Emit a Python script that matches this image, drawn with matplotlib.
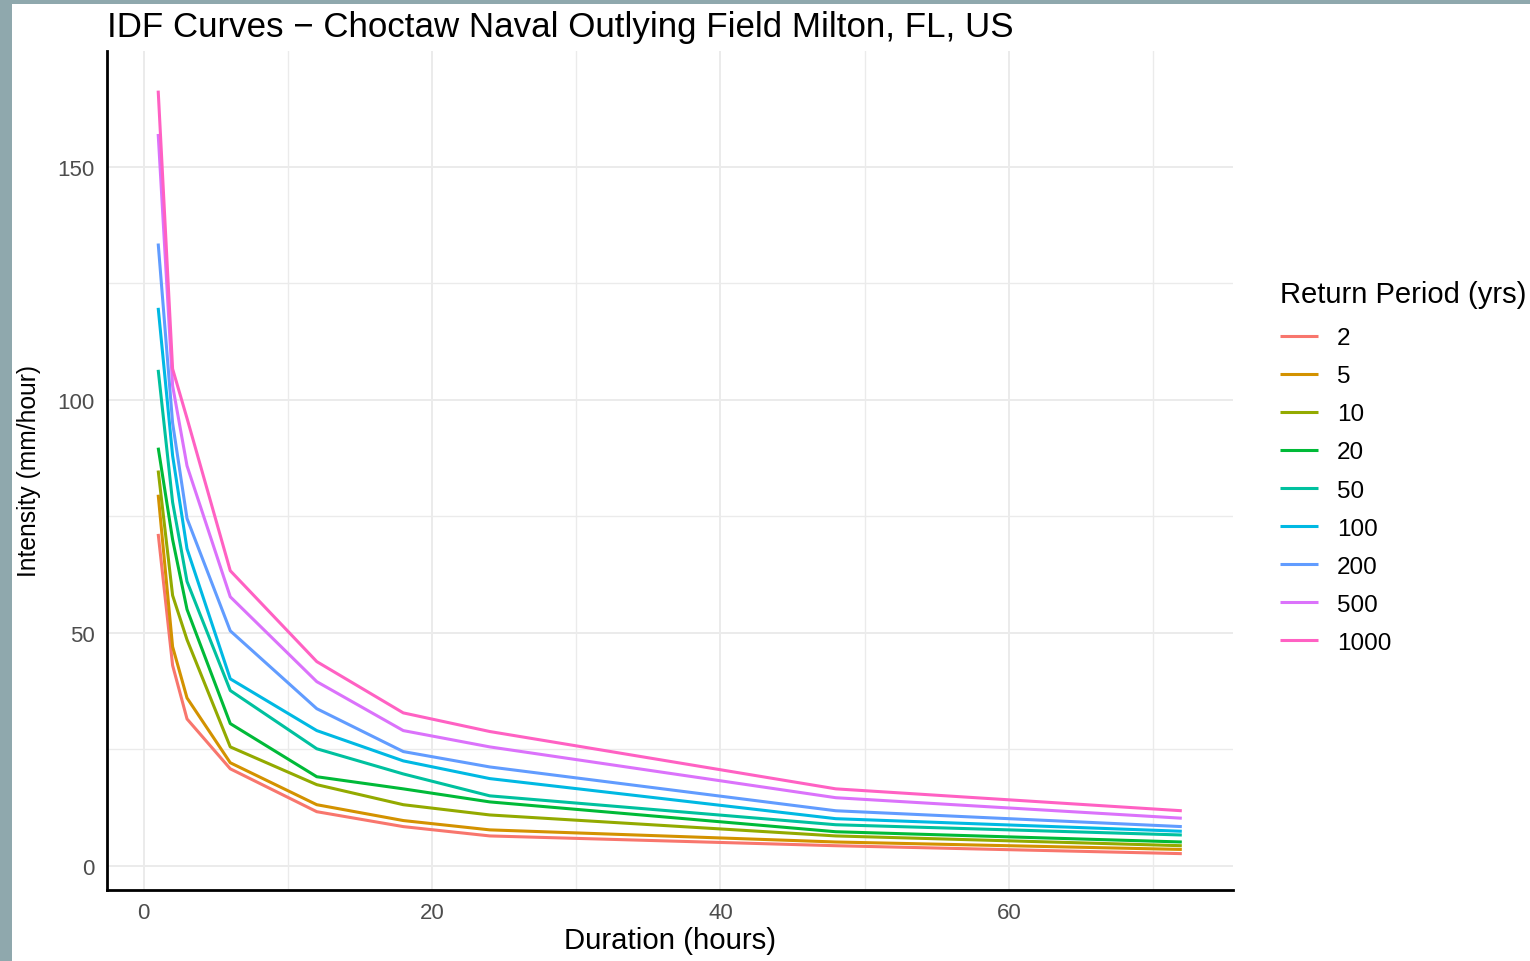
import numpy as np
import matplotlib
matplotlib.use("Agg")
import matplotlib.pyplot as plt
from matplotlib.patches import Rectangle
from matplotlib.ticker import MultipleLocator

plt.rcParams['font.family'] = ['Liberation Sans', 'DejaVu Sans']

# durations (hours) and intensity (mm/hour) per return period
durations = [1, 2, 3, 6, 12, 18, 24, 48, 72]
return_periods = ["2", "5", "10", "20", "50", "100", "200", "500", "1000"]

rp_2 = [71.2, 43.0, 31.5, 20.8, 11.6, 8.4, 6.4, 4.3, 2.6]
rp_5 = [79.6, 47.0, 36.0, 22.1, 13.1, 9.7, 7.7, 5.1, 3.5]
rp_10 = [84.8, 58.0, 48.5, 25.5, 17.4, 13.1, 10.9, 6.4, 4.3]
rp_20 = [89.7, 70.0, 55.0, 30.5, 19.1, 16.5, 13.7, 7.3, 5.1]
rp_50 = [106.4, 78.0, 61.0, 37.6, 25.1, 19.7, 15.0, 8.8, 6.6]
rp_100 = [119.7, 88.0, 68.0, 40.1, 29.0, 22.5, 18.7, 10.1, 7.4]
rp_200 = [133.5, 95.0, 74.5, 50.4, 33.7, 24.5, 21.2, 11.8, 8.4]
rp_500 = [157.0, 103.0, 85.8, 57.7, 39.5, 29.0, 25.5, 14.6, 10.2]
rp_1000 = [166.3, 106.6, 96.0, 63.3, 43.8, 32.8, 28.8, 16.5, 11.8]

series = [rp_2, rp_5, rp_10, rp_20, rp_50, rp_100, rp_200, rp_500, rp_1000]
colors = ["#F8766D", "#D39200", "#93AA00", "#00BA38", "#00C19F",
          "#00B9E3", "#619CFF", "#DB72FB", "#FF61C3"]

fig = plt.figure(figsize=(15.3, 9.62), dpi=100)
fig.patch.set_facecolor("white")

# slate border along the left and top edges
fig.patches.append(Rectangle((0, 0), 12 / 1530, 1, transform=fig.transFigure,
                             facecolor="#8FA8AD", edgecolor="none", zorder=0))
fig.patches.append(Rectangle((0, 1 - 5 / 962), 1, 5 / 962, transform=fig.transFigure,
                             facecolor="#8FA8AD", edgecolor="none", zorder=0))

ax = fig.add_axes([107 / 1530, 1 - 891 / 962, (1233 - 107) / 1530, (891 - 52) / 962])

for vals, col, lab in zip(series, colors, return_periods):
    ax.plot(durations, vals, color=col, lw=2.2, label=lab, solid_capstyle="butt")

ax.set_xlim(-2.55, 75.55)
ax.set_ylim(-5.2, 174.8)
ax.xaxis.set_major_locator(MultipleLocator(20))
ax.xaxis.set_minor_locator(MultipleLocator(10))
ax.yaxis.set_major_locator(MultipleLocator(50))
ax.yaxis.set_minor_locator(MultipleLocator(25))
ax.grid(which="major", color="#EBEBEB", lw=1.4)
ax.grid(which="minor", color="#EBEBEB", lw=1.0)
ax.set_axisbelow(True)

for side in ["top", "right"]:
    ax.spines[side].set_visible(False)
for side in ["left", "bottom"]:
    ax.spines[side].set_color("black")
    ax.spines[side].set_linewidth(2.0)

ax.tick_params(which="both", length=0, labelsize=16, labelcolor="#4D4D4D", pad=9)

ax.set_xlabel("Duration (hours)", fontsize=21.2, labelpad=2)
ax.set_ylabel("Intensity (mm/hour)", fontsize=17.7, labelpad=12)
ax.set_title("IDF Curves \u2212 Choctaw Naval Outlying Field Milton, FL, US",
             fontsize=25.1, loc="left", x=0.0, pad=11)

leg = ax.legend(title="Return Period (yrs)", loc="upper left",
                bbox_to_anchor=(1258 / 1530, 1 - 259 / 962),
                bbox_transform=fig.transFigure, frameon=False,
                fontsize=17.5, title_fontsize=21, handlelength=1.55,
                handletextpad=0.8, labelspacing=0.66, alignment="left")
leg._legend_box.sep = 14

fig.savefig("out.png", dpi=100)
